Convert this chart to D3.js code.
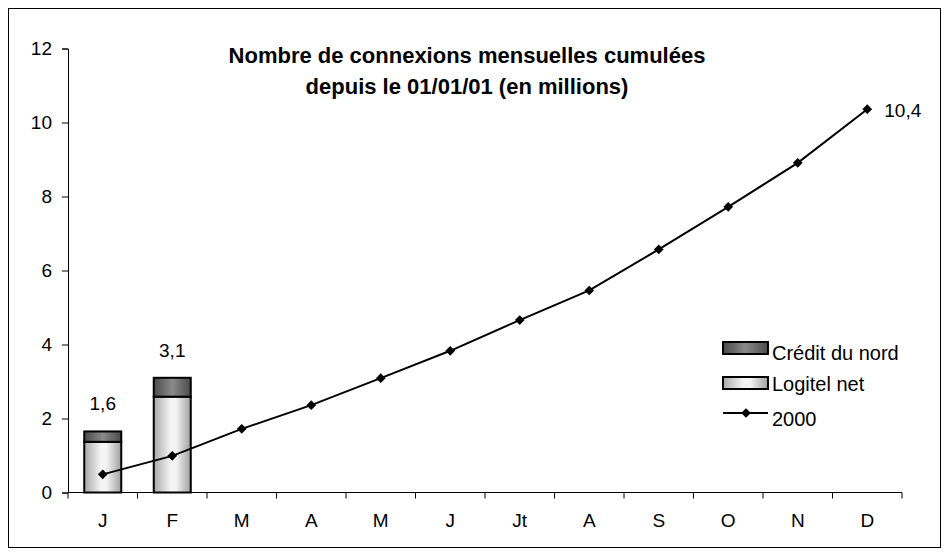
<!DOCTYPE html>
<html>
<head>
<meta charset="utf-8">
<script src="https://cdn.jsdelivr.net/npm/d3@7"></script>
<style>
  body { margin: 0; background: #fff; }
  svg text { font-family: "Liberation Sans", Arial, sans-serif; fill: #000; }
</style>
</head>
<body>
<div id="app"></div>
<script>
const months = ['J', 'F', 'M', 'A', 'M', 'J', 'Jt', 'A', 'S', 'O', 'N', 'D']
const logitel = [1.37, 2.59]
const credit = [0.28, 0.51]
const barLabels = ['1,6', '3,1']
const line2000 = [0.49, 0.99, 1.72, 2.36, 3.09, 3.83, 4.66, 5.46, 6.57, 7.72, 8.91, 10.36]
const yTicks = [0, 2, 4, 6, 8, 10, 12]
const titleLines = ['Nombre de connexions mensuelles cumulées', 'depuis le 01/01/01 (en millions)']

const width = 950, height = 555
const plot = { left: 68, right: 902, top: 48.5, bottom: 492.5 }
const fontSize = 19

const svg = d3.select('#app').append('svg')
    .attr('width', width)
    .attr('height', height)

// frame
svg.append('rect')
    .attr('x', 8.5).attr('y', 8.5)
    .attr('width', 932).attr('height', 539)
    .attr('fill', '#fff')
    .attr('stroke', '#000')
    .attr('stroke-width', 1)

const defs = svg.append('defs')
const gradLight = defs.append('linearGradient').attr('id', 'gLight')
gradLight.append('stop').attr('offset', '0%').attr('stop-color', '#a8a8a8')
gradLight.append('stop').attr('offset', '45%').attr('stop-color', '#f4f4f4')
gradLight.append('stop').attr('offset', '60%').attr('stop-color', '#f4f4f4')
gradLight.append('stop').attr('offset', '100%').attr('stop-color', '#a0a0a0')
const gradDark = defs.append('linearGradient').attr('id', 'gDark')
gradDark.append('stop').attr('offset', '0%').attr('stop-color', '#4a4a4a')
gradDark.append('stop').attr('offset', '50%').attr('stop-color', '#8a8a8a')
gradDark.append('stop').attr('offset', '100%').attr('stop-color', '#4a4a4a')

const x = d3.scaleBand()
    .domain(d3.range(months.length))
    .range([plot.left, plot.right])
    .paddingInner(0).paddingOuter(0)

const y = d3.scaleLinear()
    .domain([0, 12])
    .range([plot.bottom, plot.top])

// y axis
const yAxis = svg.append('g')
    .attr('transform', `translate(${plot.left},0)`)
    .call(d3.axisLeft(y).tickValues(yTicks).tickSize(6).tickPadding(10).tickFormat(d3.format('d')))
yAxis.select('.domain').attr('stroke', '#000')
yAxis.selectAll('line').attr('stroke', '#000')
yAxis.selectAll('text').attr('font-size', fontSize).attr('fill', '#000')
    .attr('font-family', '"Liberation Sans", Arial, sans-serif')

// x axis: ticks at band boundaries
const xAxisG = svg.append('g')
    .attr('transform', `translate(0,${plot.bottom})`)
xAxisG.append('line')
    .attr('x1', plot.left).attr('x2', plot.right)
    .attr('stroke', '#000')
xAxisG.selectAll('line.tick')
    .data(d3.range(months.length + 1))
    .join('line')
    .attr('class', 'tick')
    .attr('x1', i => i < months.length ? x(i) : x(months.length - 1) + x.bandwidth())
    .attr('x2', i => i < months.length ? x(i) : x(months.length - 1) + x.bandwidth())
    .attr('y1', 0).attr('y2', 6)
    .attr('stroke', '#000')
xAxisG.selectAll('text')
    .data(months)
    .join('text')
    .attr('x', (d, i) => x(i) + x.bandwidth() / 2)
    .attr('y', 34.5)
    .attr('text-anchor', 'middle')
    .attr('font-size', fontSize)
    .text(d => d)

// stacked bars
const barW = 37
const bars = svg.append('g')
bars.selectAll('rect.logitel')
    .data(logitel)
    .join('rect')
    .attr('class', 'logitel')
    .attr('x', (d, i) => x(i) + x.bandwidth() / 2 - barW / 2)
    .attr('y', d => y(d))
    .attr('width', barW)
    .attr('height', d => y(0) - y(d))
    .attr('fill', 'url(#gLight)')
    .attr('stroke', '#000')
    .attr('stroke-width', 2)
bars.selectAll('rect.credit')
    .data(credit)
    .join('rect')
    .attr('class', 'credit')
    .attr('x', (d, i) => x(i) + x.bandwidth() / 2 - barW / 2)
    .attr('y', (d, i) => y(logitel[i] + d))
    .attr('width', barW)
    .attr('height', (d, i) => y(logitel[i]) - y(logitel[i] + d))
    .attr('fill', 'url(#gDark)')
    .attr('stroke', '#000')
    .attr('stroke-width', 2)
bars.selectAll('text')
    .data(barLabels)
    .join('text')
    .attr('x', (d, i) => x(i) + x.bandwidth() / 2)
    .attr('y', (d, i) => y(logitel[i] + credit[i]) - 21)
    .attr('text-anchor', 'middle')
    .attr('font-size', fontSize)
    .text(d => d)

// line 2000
const lineGen = d3.line()
    .x((d, i) => x(i) + x.bandwidth() / 2)
    .y(d => y(d))
svg.append('path')
    .datum(line2000)
    .attr('d', lineGen)
    .attr('fill', 'none')
    .attr('stroke', '#000')
    .attr('stroke-width', 2)
const diamond = d3.symbol().type(d3.symbolDiamond2).size(60)
svg.selectAll('path.marker')
    .data(line2000)
    .join('path')
    .attr('class', 'marker')
    .attr('d', diamond)
    .attr('transform', (d, i) => `translate(${x(i) + x.bandwidth() / 2},${y(d)})`)
    .attr('fill', '#000')
svg.append('text')
    .attr('x', x(11) + x.bandwidth() / 2 + 17)
    .attr('y', y(line2000[11]) + 8)
    .attr('font-size', fontSize)
    .text('10,4')

// title
svg.append('text')
    .attr('x', 467)
    .attr('y', 63)
    .attr('text-anchor', 'middle')
    .attr('font-size', 22)
    .attr('font-weight', 'bold')
    .selectAll('tspan')
    .data(titleLines)
    .join('tspan')
    .attr('x', 467)
    .attr('dy', (d, i) => i === 0 ? 0 : 31)
    .text(d => d)

// legend
const legend = svg.append('g').attr('transform', 'translate(723,342)')
legend.append('rect')
    .attr('x', 0).attr('y', 0).attr('width', 45).attr('height', 12)
    .attr('fill', 'url(#gDark)').attr('stroke', '#000').attr('stroke-width', 2)
legend.append('text').attr('x', 49).attr('y', 18).attr('font-size', 20).text('Crédit du nord')
legend.append('rect')
    .attr('x', 0).attr('y', 35).attr('width', 45).attr('height', 12)
    .attr('fill', 'url(#gLight)').attr('stroke', '#000').attr('stroke-width', 2)
legend.append('text').attr('x', 49).attr('y', 49).attr('font-size', 20).text('Logitel net')
legend.append('line')
    .attr('x1', 0).attr('x2', 45).attr('y1', 71).attr('y2', 71)
    .attr('stroke', '#000').attr('stroke-width', 2)
legend.append('path')
    .attr('d', diamond)
    .attr('transform', 'translate(23,71)')
    .attr('fill', '#000')
legend.append('text').attr('x', 49).attr('y', 84).attr('font-size', 20).text('2000')
</script>
</body>
</html>
